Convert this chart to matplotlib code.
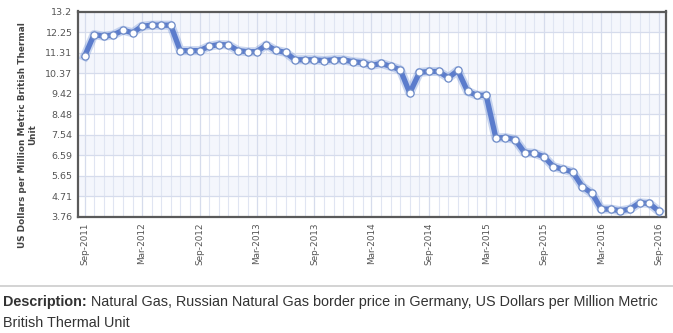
import matplotlib
matplotlib.use("Agg")
import matplotlib.pyplot as plt
import matplotlib.dates as mdates
from matplotlib.lines import Line2D
import pandas as pd

months = pd.date_range("2011-09-01", periods=61, freq="MS")
prices = [11.14, 12.14, 12.06, 12.12, 12.34, 12.22, 12.52, 12.57, 12.57, 12.57,
          11.40, 11.40, 11.40, 11.60, 11.68, 11.66, 11.40, 11.35, 11.35, 11.66,
          11.41, 11.32, 10.98, 10.98, 10.98, 10.94, 10.98, 10.98, 10.89, 10.85,
          10.72, 10.81, 10.68, 10.52, 9.45, 10.40, 10.44, 10.44, 10.15, 10.49,
          9.52, 9.34, 9.35, 7.38, 7.40, 7.31, 6.71, 6.68, 6.52, 6.06,
          5.94, 5.82, 5.14, 4.83, 4.11, 4.11, 4.03, 4.11, 4.40, 4.37, 4.00]
y_ticks = [3.76, 4.71, 5.65, 6.59, 7.54, 8.48, 9.42, 10.37, 11.31, 12.25, 13.2]
y_tick_labels = ["3.76", "4.71", "5.65", "6.59", "7.54", "8.48", "9.42", "10.37", "11.31", "12.25", "13.2"]
x_tick_dates = pd.to_datetime(["2011-09-01", "2012-03-01", "2012-09-01", "2013-03-01", "2013-09-01",
                               "2014-03-01", "2014-09-01", "2015-03-01", "2015-09-01", "2016-03-01",
                               "2016-09-01"])
x_tick_labels = ["Sep-2011", "Mar-2012", "Sep-2012", "Mar-2013", "Sep-2013", "Mar-2014",
                 "Sep-2014", "Mar-2015", "Sep-2015", "Mar-2016", "Sep-2016"]
y_label = "US Dollars per Million Metric British Thermal\nUnit"
desc_bold = "Description:"
desc_line1 = " Natural Gas, Russian Natural Gas border price in Germany, US Dollars per Million Metric"
desc_line2 = "British Thermal Unit"

W, H = 673, 333
fig = plt.figure(figsize=(W / 100, H / 100), dpi=100)
fig.patch.set_facecolor("white")
ax = fig.add_axes([78 / W, 1 - 216.7 / H, (665.7 - 78) / W, (216.7 - 11.5) / H])
ax.set_facecolor("white")

# alternating bands
for i in range(len(y_ticks) - 1):
    if i % 2 == 0:
        continue
    ax.axhspan(y_ticks[i], y_ticks[i + 1], color="#f4f6fc", zorder=0, lw=0)

ax.set_ylim(y_ticks[0], y_ticks[-1])
ax.set_yticks(y_ticks)
ax.set_yticklabels(y_tick_labels)
ax.set_xlim(months[0] - pd.Timedelta(days=21), months[-1] + pd.Timedelta(days=21))
ax.set_xticks(x_tick_dates)
ax.set_xticklabels(x_tick_labels, rotation=90)
ax.xaxis.set_minor_locator(mdates.MonthLocator())

ax.grid(True, which="major", axis="both", color="#d6dcec", lw=0.9, zorder=1)
ax.grid(True, which="minor", axis="x", color="#e0e5f2", lw=0.8, zorder=1)
ax.set_axisbelow(True)

ax.tick_params(axis="both", which="both", length=0, labelcolor="#555555")
ax.tick_params(axis="y", labelsize=6.8, pad=4)
ax.tick_params(axis="x", labelsize=6.4, pad=4)
for s in ax.spines.values():
    s.set_color("#5a5a5a")
    s.set_linewidth(1.6)

ax.plot(months, prices, color="#6b8fd6", lw=6.5, alpha=0.35, zorder=3, solid_joinstyle="round")
ax.plot(months, prices, color="#5b7ccc", lw=3.8, zorder=4, solid_joinstyle="round",
        marker="o", markersize=5.2, markerfacecolor="white", markeredgecolor="#6f8cc8",
        markeredgewidth=0.9)

ax.set_ylabel(y_label, fontsize=6.4, fontweight="bold", color="#444444",
              linespacing=1.2)
ax.yaxis.set_label_coords(-0.069, 0.398)

# separator
fig.add_artist(Line2D([0, 1], [1 - 285.5 / H, 1 - 285.5 / H], color="#cccccc", lw=1.2))

fam = ["Liberation Sans", "DejaVu Sans"]
fs = 10.4
t1 = fig.text(3 / W, 1 - 302 / H, desc_bold, fontsize=fs, fontweight="bold", color="#333333",
              family=fam, va="center", ha="left")
fig.canvas.draw()
bb = t1.get_window_extent()
fig.text(bb.x1 / W, 1 - 302 / H, desc_line1, fontsize=fs, color="#333333",
         family=fam, va="center", ha="left")
fig.text(3 / W, 1 - 323 / H, desc_line2, fontsize=fs, color="#333333",
         family=fam, va="center", ha="left")

fig.savefig("out.png", dpi=100, facecolor="white")
